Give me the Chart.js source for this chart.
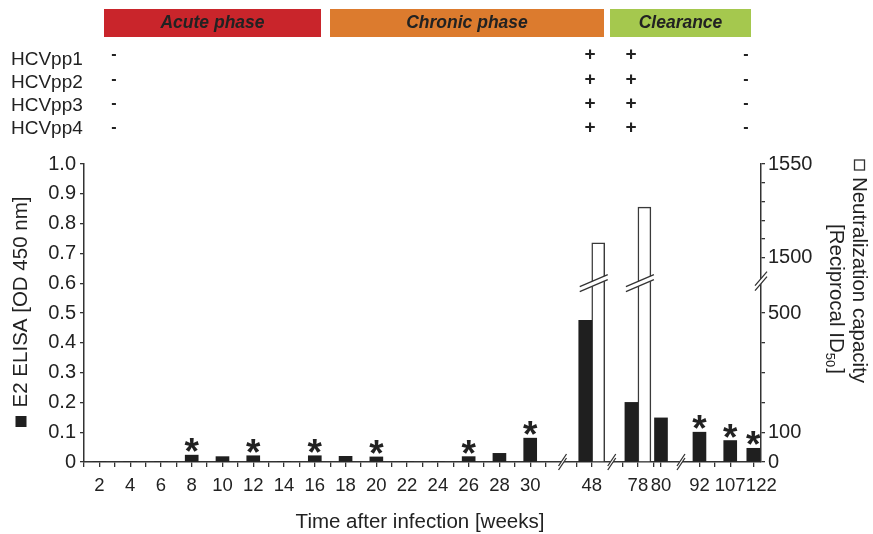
<!DOCTYPE html>
<html lang="en">
<head>
<meta charset="UTF-8" />
<title>E2 ELISA and neutralization capacity</title>
<script src="https://cdn.jsdelivr.net/npm/chart.js"></script>
<style>
  html, body { margin: 0; padding: 0; background: #fff; }
  #wrap { width: 873px; height: 534px; }
</style>
</head>
<body>
<div id="wrap"><canvas id="chart"></canvas></div>
<script>
// ---- data ----
const weeks = ['2', '4', '6', '8', '10', '12', '14', '16', '18', '20', '22', '24', '26', '28', '30', '48', '78', '80', '92', '107', '122'];
const e2Elisa = [0, 0, 0, 0.023, 0.018, 0.021, 0, 0.021, 0.019, 0.017, 0, 0, 0.018, 0.029, 0.08, 0.475, 0.2, 0.148, 0.1, 0.072, 0.046];
const neutralization = [null, null, null, null, null, null, null, null, null, null, null, null, null, null, null, 1508, 1527, null, null, null, null];
const significant = ['8', '12', '16', '20', '26', '30', '92', '107', '122'];
const leftTicks = [0, 0.1, 0.2, 0.3, 0.4, 0.5, 0.6, 0.7, 0.8, 0.9, 1.0];
const rightTicks = [0, 100, 200, 300, 400, 500, 1500, 1510, 1520, 1530, 1540, 1550];
const rightLabelled = [0, 100, 500, 1500, 1550];
const phases = ['Acute phase', 'Chronic phase', 'Clearance'];
const pseudotypes = ['HCVpp1', 'HCVpp2', 'HCVpp3', 'HCVpp4'];
const neutralized = ['-', '+', '+', '-'];

// ---- layout: the time axis is broken, so weeks sit on a fine slot grid ----
const SLOTS = 89;
const lateSlot = { 48: 66, 78: 72, 80: 75, 92: 80, 107: 84, 122: 87 };
const slotOf = w => (+w <= 30 ? 2 * w - 2 : lateSlot[w]);
const tickSlots = new Set([64, 66, 70, 72, 74, 75, 80, 82, 84, 87]);
for (let k = 0; k <= 60; k += 2) tickSlots.add(k);
const xBreaks = [62.2, 68.6, 77.6];
const lastWeek = weeks[weeks.length - 1]; // its label hangs right of the bar, drawn by the plugin

const xLabels = new Array(SLOTS).fill('');
const e2Slots = new Array(SLOTS).fill(null);
const ntSlots = new Array(SLOTS).fill(null);
weeks.forEach((w, i) => {
  const k = slotOf(w);
  xLabels[k] = w;
  e2Slots[k] = e2Elisa[i];
  ntSlots[k] = neutralization[i];
});

// right axis: 0-500 on the lower half, break, 1500-1550 on top
function brokenDecimal(v) {
  if (v <= 500) return v / 500 * 0.5;
  if (v <= 1500) return 0.5 + (v - 500) / 1000 * 0.185;
  return 0.685 + (v - 1500) / 50 * 0.315;
}
class BrokenScale extends Chart.LinearScale {
  buildTicks() { return rightTicks.map(value => ({ value })); }
  getPixelForValue(value) {
    if (value === null || value === undefined || isNaN(value)) return NaN;
    return this.getPixelForDecimal(brokenDecimal(value));
  }
}
BrokenScale.id = 'broken';
BrokenScale.defaults = Chart.LinearScale.defaults;
Chart.register(BrokenScale);

const FONT = '"Liberation Sans", Arial, sans-serif';
const INK = '#222';

function breakMark(ctx, x, y, w, h, gap) {
  ctx.save();
  ctx.fillStyle = '#fff';
  ctx.beginPath();
  ctx.moveTo(x - w, y + h + gap / 2);
  ctx.lineTo(x + w, y - h + gap / 2);
  ctx.lineTo(x + w, y - h - gap / 2);
  ctx.lineTo(x - w, y + h - gap / 2);
  ctx.closePath();
  ctx.fill();
  ctx.strokeStyle = '#333';
  ctx.lineWidth = 1.3;
  ctx.beginPath();
  ctx.moveTo(x - w, y + h + gap / 2); ctx.lineTo(x + w, y - h + gap / 2);
  ctx.moveTo(x - w, y + h - gap / 2); ctx.lineTo(x + w, y - h - gap / 2);
  ctx.stroke();
  ctx.restore();
}

const decor = {
  id: 'decor',
  afterDraw(chart) {
    const { ctx, chartArea, scales } = chart;
    const x = scales.x, y1 = scales.y1;
    ctx.save();

    // phase banners
    const boxes = [[104, 321, '#c9252b'], [330, 604, '#dc7b2e'], [610, 751, '#a5c84e']];
    ctx.font = 'italic bold 17.5px ' + FONT;
    ctx.textAlign = 'center';
    ctx.textBaseline = 'middle';
    phases.forEach((p, i) => {
      const [a, b, c] = boxes[i];
      ctx.fillStyle = c;
      ctx.fillRect(a, 9, b - a, 28);
      ctx.fillStyle = INK;
      ctx.fillText(p, (a + b) / 2, 23);
    });

    // pseudoparticle neutralization table
    const rowY = [60, 83, 106, 129];
    const markY = [55, 80, 104, 128];
    const colX = [114, 590, 631, 746];
    pseudotypes.forEach((name, r) => {
      ctx.font = '19px ' + FONT;
      ctx.textAlign = 'left';
      ctx.fillStyle = INK;
      ctx.fillText(name, 11, rowY[r]);
      ctx.textAlign = 'center';
      neutralized.forEach((m, c) => {
        ctx.font = (m === '+' ? 'bold 19px ' : 'bold 16px ') + FONT;
        ctx.fillText(m, colX[c], markY[r]);
      });
    });

    // last week label, nudged right of its bar as in the figure
    ctx.font = '18.5px ' + FONT;
    ctx.textAlign = 'center';
    ctx.textBaseline = 'middle';
    ctx.fillText(lastWeek, x.getPixelForValue(slotOf(lastWeek)) + 8, 486);

    // axis titles
    ctx.font = '20.5px ' + FONT;
    ctx.fillStyle = INK;
    ctx.fillText('Time after infection [weeks]', 420, 522);

    ctx.save();
    ctx.translate(21, 302);
    ctx.rotate(-Math.PI / 2);
    ctx.fillText('E2 ELISA [OD 450 nm]', 0, 0);
    ctx.fillStyle = '#1f1f1f';
    ctx.fillRect(-125, -5.5, 11, 11);
    ctx.restore();

    ctx.save();
    ctx.translate(859, 280);
    ctx.rotate(Math.PI / 2);
    ctx.fillText('Neutralization capacity', 0, 0);
    ctx.strokeStyle = '#333';
    ctx.lineWidth = 1.3;
    ctx.strokeRect(-120, -5.5, 10, 10);
    ctx.textAlign = 'left';
    const s1 = '[Reciprocal ID';
    const w1 = ctx.measureText(s1).width;
    const x0 = -56;
    ctx.fillText(s1, x0, 23);
    ctx.font = '13px ' + FONT;
    ctx.fillText('50', x0 + w1, 29);
    const w2 = ctx.measureText('50').width;
    ctx.font = '20.5px ' + FONT;
    ctx.fillText(']', x0 + w1 + w2 + 1, 23);
    ctx.restore();

    // significance asterisks
    const bars = chart.getDatasetMeta(0).data;
    ctx.font = 'bold 37px ' + FONT;
    ctx.textAlign = 'center';
    ctx.textBaseline = 'alphabetic';
    ctx.fillStyle = INK;
    const m = ctx.measureText('*');
    significant.forEach(w => {
      const bar = bars[slotOf(w)];
      ctx.fillText('*', bar.x, bar.y - 3 - m.actualBoundingBoxDescent);
    });

    // axis breaks
    const breakY = y1.getPixelForDecimal(0.6);
    ['48', '78'].forEach(w => breakMark(ctx, x.getPixelForValue(slotOf(w)) + 2, breakY, 14, 6, 5));
    breakMark(ctx, chartArea.right, breakY - 2, 6, 7, 5);
    xBreaks.forEach(k => breakMark(ctx, x.getPixelForValue(k), chartArea.bottom, 4, 6, 4));

    ctx.restore();
  }
};

const axisFont = { family: FONT, size: 20 };

new Chart(document.getElementById('chart'), {
  type: 'bar',
  data: {
    labels: xLabels,
    datasets: [
      {
        label: 'E2 ELISA',
        data: e2Slots,
        yAxisID: 'y',
        backgroundColor: '#1f1f1f',
        borderWidth: 0
      },
      {
        label: 'Neutralization capacity',
        data: ntSlots,
        yAxisID: 'y1',
        backgroundColor: '#fff',
        borderColor: '#3a3a3a',
        borderWidth: 1.5
      }
    ]
  },
  options: {
    responsive: true,
    maintainAspectRatio: false,
    animation: false,
    events: [],
    layout: { padding: { top: 164, left: 0, right: 0, bottom: 0 } },
    datasets: { bar: { barThickness: 13, skipNull: true } },
    plugins: { legend: { display: false }, tooltip: { enabled: false } },
    scales: {
      x: {
        offset: false,
        grid: {
          offset: false,
          drawOnChartArea: false,
          tickLength: 5,
          lineWidth: 1.3,
          color: c => (tickSlots.has(c.index) ? '#333' : 'rgba(0,0,0,0)')
        },
        border: { color: '#333', width: 1.5 },
        ticks: {
          autoSkip: false,
          maxRotation: 0,
          minRotation: 0,
          padding: 8,
          color: INK,
          font: { family: FONT, size: 18.5 },
          callback: (v, i) => (xLabels[i] === lastWeek ? '' : xLabels[i])
        },
        afterFit: s => { s.height = 72; }
      },
      y: {
        position: 'left',
        min: 0,
        max: 1,
        afterBuildTicks: s => { s.ticks = leftTicks.map(value => ({ value })); },
        grid: { drawOnChartArea: false, tickLength: 4, lineWidth: 1.3, color: '#333' },
        border: { color: '#333', width: 1.5 },
        ticks: {
          padding: 4,
          color: INK,
          font: axisFont,
          callback: v => (v === 0 ? '0' : v.toFixed(1))
        },
        afterFit: s => { s.width = 84; }
      },
      y1: {
        type: 'broken',
        position: 'right',
        min: 0,
        max: 1550,
        grid: { drawOnChartArea: false, tickLength: 4, lineWidth: 1.3, color: '#333' },
        border: { color: '#333', width: 1.5 },
        ticks: {
          autoSkip: false,
          padding: 3,
          color: INK,
          font: axisFont,
          callback: v => (rightLabelled.includes(v) ? String(v) : '')
        },
        afterFit: s => { s.width = 112; }
      }
    }
  },
  plugins: [decor]
});
</script>
</body>
</html>
